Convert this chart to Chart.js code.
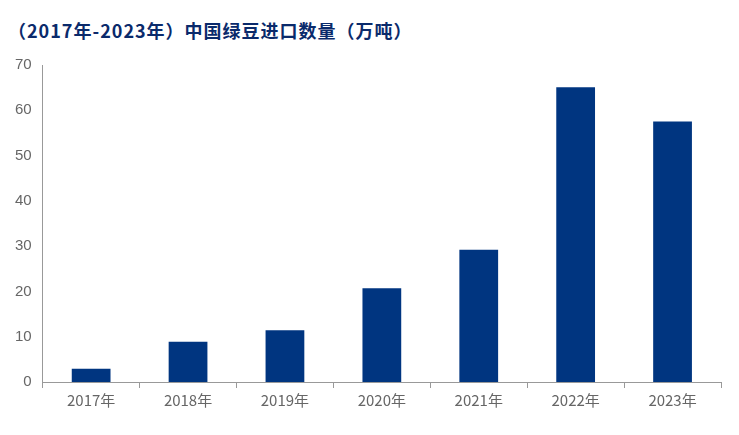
<!DOCTYPE html>
<html><head><meta charset="utf-8">
<script src="https://cdn.jsdelivr.net/npm/chart.js@4"></script>
<style>body{margin:0;background:#fff}#w{position:relative;width:739px;height:435px}
#t{position:absolute;left:8px;top:17px;font:bold 18px "Noto Sans CJK SC";color:#0a2a6b;letter-spacing:1px}
#c{position:absolute;left:0;top:50px}</style></head><body>
<div id="w"><div id="t">（2017年-2023年）中国绿豆进口数量（万吨）</div><canvas id="c" width="739" height="362"></canvas></div>
<script>
const categories=["2017年","2018年","2019年","2020年","2021年","2022年","2023年"];
const values=[2.9,8.9,11.4,20.7,29.2,65.1,57.5];
new Chart(document.getElementById('c'),{type:'bar',
data:{labels:categories,datasets:[{data:values,backgroundColor:'#003580',barPercentage:0.4,categoryPercentage:1}]},
options:{responsive:false,animation:false,plugins:{legend:{display:false},tooltip:{enabled:false}},
layout:{padding:{left:12,right:18,top:15}},
scales:{x:{grid:{display:true,drawOnChartArea:false,color:'#999',tickLength:6},border:{color:'#999'},ticks:{color:'#666',font:{size:15,family:'Noto Sans CJK SC'}}},
y:{min:0,max:70,ticks:{stepSize:10,color:'#666',font:{size:15}},grid:{display:false},border:{color:'#999'}}}}});
</script></body></html>
